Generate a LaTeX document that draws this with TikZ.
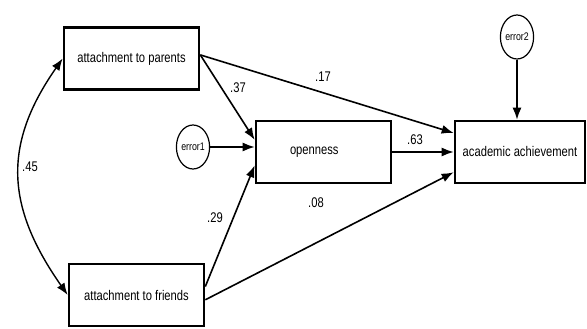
\documentclass[tikz,border=0pt]{standalone}
\usepackage{fontspec}
\setmainfont[FakeStretch=0.8]{Liberation Sans}
\usetikzlibrary{shapes.geometric,arrows.meta}

\tikzset{
  var/.style={draw,line width=2.6pt,minimum width=135pt,minimum height=62pt,inner sep=2pt,font=\fontsize{14}{16}\selectfont},
  err/.style={draw,ellipse,line width=1.2pt,minimum width=28pt,minimum height=44pt,inner sep=0pt,font=\fontsize{11}{12}\selectfont},
  path/.style={line width=1.6pt,-{Latex[length=12pt,width=9pt]}},
  coef/.style={font=\fontsize{14}{16}\selectfont}
}

\begin{document}
\begin{tikzpicture}[x=1pt,y=1pt]
\useasboundingbox (0,0) rectangle (587,329);
\node[var] (parents) at (131.5,270.5) {attachment to parents};
\node[var] (friends) at (136.5,34) {attachment to friends};
\node[var,text width=67pt,inner xsep=34pt,align=left] (open) at (323.5,177) {openness};
\node[var,minimum width=130pt] (acad) at (520,177) {academic achievement};
\node[err] (e1) at (193,182) {error1};
\node[err] (e2) at (517,292) {error2};
\draw[path] (parents.3) -- (acad.164);
\draw[path] (parents.3) -- (open.170);
\draw[path] (e1.east) -- (open.west |- e1.east);
\draw[path] (friends.7) -- (open.191);
\draw[path] (friends.-4) -- (acad.197);
\draw[path] (open.east) -- (acad.west);
\draw[path] (e2.south) -- (e2.south |- acad.north);
\draw[line width=1.4pt,{Latex[length=12pt,width=9pt]}-{Latex[length=12pt,width=9pt]}] (parents.west) to[out=235,in=125,looseness=1.15] (friends.west);
%\node at (30,162) {.45};
\node[coef] (c37) at (238,241) {.37};
\node[coef] (c17) at (323,252) {.17};
\node[coef] (c45) at (30,162) {.45};
\node[coef] (c63) at (415,189) {.63};
\node[coef] (c29) at (215,111) {.29};
\node[coef] (c08) at (316,126) {.08};
\end{tikzpicture}
\end{document}
